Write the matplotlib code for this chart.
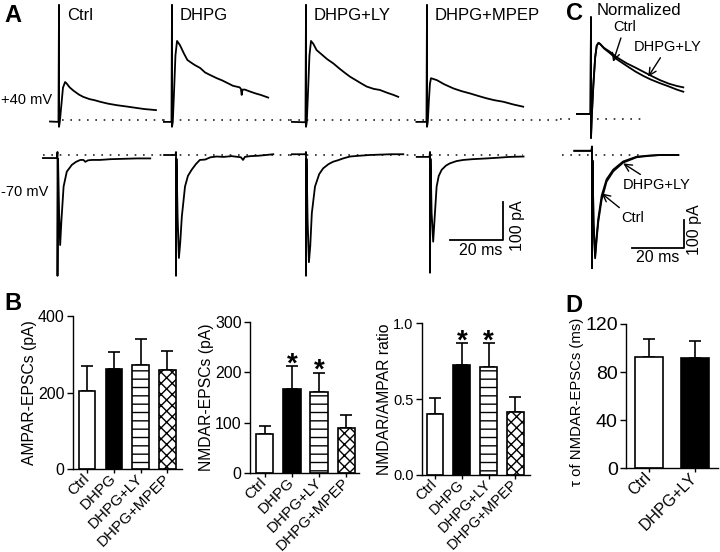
import matplotlib.pyplot as plt
import numpy as np

plt.rcParams['font.family'] = ['Liberation Sans', 'DejaVu Sans']
plt.rcParams['hatch.linewidth'] = 1.0

# ---------------- data ----------------
CONDS = ['Ctrl', 'DHPG', 'DHPG+LY', 'DHPG+MPEP']

# A, +40 mV traces (time in ms from stimulus, current in pA)
ctrl_p40_t = [-3.4, -0.2, 0, 0, 0.3, 0.9, 1.5, 2.3, 2.9, 4.0, 5.5, 7.5, 9.1, 11.5, 13.5, 15.5, 18.5, 21.8, 25, 28, 32, 36.6]
ctrl_p40_i = [-4, -5, 303, -18, -5, 40, 85, 100, 96, 86, 77, 67, 61, 55, 52, 48, 43, 39, 36, 33, 29, 26]
dhpg_p40_t = [-3.4, -0.2, 0, 0, 0.3, 0.8, 1.3, 1.9, 3.0, 4.5, 5.8, 6.8, 8.5, 10.6, 12.5, 14.5, 16.9, 19, 21, 23, 25.5, 26.0, 26.3, 26.6, 27.5, 29.4, 31.5, 33.5, 36.3]
dhpg_p40_i = [-5, -5, 303, -18, -5, 80, 170, 208, 197, 175, 158, 153, 145, 137, 125, 118, 110, 104, 97, 90, 86, 82, 66, 80, 80, 75, 70, 66, 59]
ly_p40_t = [-5.3, -0.2, 0, 0, 0.3, 0.8, 1.3, 1.9, 2.8, 4, 6, 8, 10.3, 12.5, 14.5, 16.6, 19, 20.9, 22.9, 25.5, 27.9, 30.5, 33, 34.8]
ly_p40_i = [-5, -6, 303, -18, -5, 80, 170, 208, 200, 184, 172, 160, 149, 136, 125, 114, 104, 96, 88, 82, 79, 72, 66, 61]
mpep_p40_t = [-4, -0.2, 0, 0, 0.3, 0.7, 1.1, 1.5, 3.7, 6.5, 10, 13, 16.2, 19.5, 22.5, 25.5, 28.8, 32.5, 36.3]
mpep_p40_i = [-5, -5, 303, -18, -5, 50, 95, 110, 105, 94, 83, 76, 70, 63, 57, 52, 48, 41, 35]

# A, -70 mV traces
ctrl_m70_t = [-5.5, -0.2, 0, 0, 0.2, 0.6, 1.0, 1.5, 2.3, 3.5, 5.4, 7, 8.6, 9.8, 10.5, 11.5, 13, 16, 20, 25, 30, 35]
ctrl_m70_i = [-8, -8, 8, -318, -10, -150, -237, -170, -83, -44, -26, -18, -13, -13, -18, -14, -13, -13, -11, -10, -9, -9]
dhpg_m70_t = [-4.2, -0.2, 0, 0, 0.2, 0.6, 1.1, 1.6, 2.2, 3.4, 4.5, 5.9, 7.5, 9, 11, 13, 15.3, 18, 21, 24.5, 25.3, 26, 28, 31, 34, 36.7]
dhpg_m70_i = [0, 0, 8, -318, -10, -160, -271, -230, -162, -83, -55, -39, -24, -13, -12, -6, -4, -5, -3, -6, -13, -5, -3, -2, 0, 2]
ly_m70_t = [-5.3, -0.2, 0, 0, 0.2, 0.6, 1.1, 1.6, 2.2, 3.4, 5, 6.5, 8.5, 10.3, 12, 14, 16.6, 20, 24, 28, 32, 36.7]
ly_m70_i = [2, 2, 8, -318, -10, -170, -282, -240, -153, -83, -50, -35, -24, -17.5, -14, -9, -4, -2, 0, 1, 2, 2]
mpep_m70_t = [-5, -0.2, 0, 0, 0.2, 0.6, 1.2, 1.8, 2.5, 3.3, 4.4, 6, 7.5, 10, 12.6, 16, 21.4, 26, 30, 35.3]
mpep_m70_i = [-5, -5, 8, -310, -10, -150, -228, -160, -83, -55, -39, -28, -22, -16, -13, -11, -9, -7, -5, -4]

# C, normalized traces
norm_up_t = [-5.4, -0.2, 0, 0, 0.3, 0.9, 1.6, 2.2, 2.9, 3.5, 5, 7.3, 10, 13.7, 17, 20.1, 23, 26.5, 30, 33, 35.5]
norm_up_ctrl = [18, 18, 364, -68, 10, 120, 220, 262, 272, 268, 252, 235, 213, 190, 170, 154, 141, 128, 116, 105, 97.5]
norm_up_ly = [18, 18, 364, -68, 10, 120, 220, 262, 272, 268, 254, 240, 220, 199, 184, 169, 155, 139, 126, 118, 113]
norm_dn_t = [-6.8, -0.2, 0, 0, 0.2, 0.6, 1.2, 1.8, 2.4, 3.7, 5.6, 8.2, 12, 17.2, 22, 26.2, 30, 33.2]
norm_dn_ctrl = [15, 15, 30, -404, -20, -250, -369, -300, -240, -160, -95, -58, -27, -8, -3, 0, 0, 0]
norm_dn_ly = [15, 15, 30, -404, -20, -240, -360, -290, -228, -146, -87, -52, -23, -6, -2, 0, 0, 0]

# B and D, bar summaries (mean, SEM)
ampar_mean = [205, 263, 272, 259]
ampar_sem = [65, 42, 67, 50]
nmdar_mean = [78, 166, 161, 89]
nmdar_sem = [16, 46, 38, 27]
ratio_mean = [0.40, 0.725, 0.71, 0.413]
ratio_sem = [0.11, 0.143, 0.158, 0.103]
sig = [False, True, True, False]
tau_conds = ['Ctrl', 'DHPG+LY']
tau_mean = [92.8, 91.5]
tau_sem = [14.5, 14.5]

# ---------------- layout helpers ----------------
W, H = 720, 552
fig = plt.figure(figsize=(W / 100, H / 100), dpi=100)


def px_axes(left, top, right, bottom):
    return fig.add_axes([left / W, 1 - bottom / H, (right - left) / W, (bottom - top) / H])


def fig_text(x, y, s, **kw):
    fig.text(x / W, 1 - y / H, s, **kw)


def trace_axes(left, right, top, bottom, stim_x, base_y, px_ms, px_pa):
    ax = px_axes(left, top, right, bottom)
    ax.set_xlim((left - stim_x) / px_ms, (right - stim_x) / px_ms)
    ax.set_ylim(-(bottom - base_y) / px_pa, (base_y - top) / px_pa)
    ax.axis('off')
    return ax


def dotted(ax, x0, x1):
    ax.plot([x0, x1], [0, 0], color='#222222', lw=1.2, linestyle=(0, (1, 4)))


LW = 1.3
# A: 2.65 px per ms, 0.38 px per pA
PX_MS, PX_PA = 2.65, 0.38
A_COLS = [(40, 163, 59, 57.5), (163, 290, 172, 176), (290, 414, 306, 306), (414, 560, 427, 430)]
top_traces = [(ctrl_p40_t, ctrl_p40_i), (dhpg_p40_t, dhpg_p40_i), (ly_p40_t, ly_p40_i), (mpep_p40_t, mpep_p40_i)]
bot_traces = [(ctrl_m70_t, ctrl_m70_i), (dhpg_m70_t, dhpg_m70_i), (ly_m70_t, ly_m70_i), (mpep_m70_t, mpep_m70_i)]

for k, ((left, right, s_top, s_bot), (tt, ti), (bt, bi)) in enumerate(zip(A_COLS, top_traces, bot_traces)):
    ax = trace_axes(left, right, 0, 140, s_top, 120, PX_MS, PX_PA)
    x0 = max(left, 62)
    dotted(ax, (x0 - s_top) / PX_MS, (right - s_top) / PX_MS)
    ax.plot(tt, ti, color='black', lw=LW)

    ax = trace_axes(left, right, 140, 285, s_bot, 155, PX_MS, PX_PA)
    x0 = max(left, 43)
    x1 = min(right, 523)
    dotted(ax, (x0 - s_bot) / PX_MS, (x1 - s_bot) / PX_MS)
    ax.plot(bt, bi, color='black', lw=LW)
    fig_text(s_top + 8, 20, CONDS[k], fontsize=12, va='baseline', ha='left')
    if k == 3:
        # scale bar 20 ms / 100 pA
        ax.plot([7.5, 27.5, 27.5], [-224, -224, -124], color='black', lw=LW, clip_on=False)
        ax.text(19, -232, '20 ms', fontsize=11.5, ha='center', va='top')
        ax.text(33, -185, '100 pA', fontsize=11.5, ha='center', va='center', rotation=90)

fig_text(1, 104, '+40 mV', fontsize=10.5, va='baseline')
fig_text(1, 196, '-70 mV', fontsize=10.5, va='baseline')
fig_text(4, 22, 'A', fontsize=17, fontweight='bold', va='baseline')

# C: normalized
CX_MS, CX_PA = 2.6, 0.28
ax = trace_axes(560, 710, 0, 140, 591, 119, CX_MS, CX_PA)
dotted(ax, (597 - 591) / CX_MS, (643 - 591) / CX_MS)
dotted(ax, (560 - 591) / CX_MS, (575 - 591) / CX_MS)
ax.plot(norm_up_t, norm_up_ctrl, color='black', lw=LW)
ax.plot(norm_up_t, norm_up_ly, color='black', lw=LW)
arrow = dict(arrowstyle='->,head_length=0.5,head_width=0.25', lw=1.0, color='black', shrinkA=1, shrinkB=0)
ax.annotate('Ctrl', xy=(8.5, 204), xytext=(12.9, 329), fontsize=10.5, ha='center', va='center', arrowprops=arrow)
ax.annotate('DHPG+LY', xy=(22, 151), xytext=(29.4, 258), fontsize=10.5, ha='center', va='center', arrowprops=arrow)

ax = trace_axes(560, 710, 140, 285, 592, 155, CX_MS, CX_PA)
dotted(ax, (562 - 592) / CX_MS, (640 - 592) / CX_MS)
ax.plot(norm_dn_t, norm_dn_ctrl, color='black', lw=LW)
ax.plot(norm_dn_t, norm_dn_ly, color='black', lw=LW)
ax.annotate('DHPG+LY', xy=(12, -30), xytext=(24.9, -107), fontsize=10.5, ha='center', va='center', arrowprops=arrow)
ax.annotate('Ctrl', xy=(3.7, -137), xytext=(15.6, -226), fontsize=10.5, ha='center', va='center', arrowprops=arrow)
ax.plot([15.4, 35.4, 35.4], [-332, -332, -232], color='black', lw=LW, clip_on=False)
ax.text(25.4, -340, '20 ms', fontsize=11.5, ha='center', va='top')
ax.text(39.5, -265, '100 pA', fontsize=11.5, ha='center', va='center', rotation=90)

fig_text(566, 20, 'C', fontsize=17, fontweight='bold', va='baseline')
fig_text(597, 15, 'Normalized', fontsize=12, va='baseline')

# ---------------- bar panels ----------------
STYLES = [('white', None), ('black', None), ('white', '--'), ('white', 'xxx')]


def bar_panel(box, c0, dx, width, labels, means, sems, ylim, yticks, yticklabels, ylabel,
              stars=None, tick_fs=11.5, xlab_fs=11, ylab_fs=11.3):
    left, top, right, bottom = box
    ax = px_axes(left, top, right, bottom)
    x = np.arange(len(means))
    for xi, m, (fc, hatch) in zip(x, means, STYLES):
        ax.bar(xi, m, width, color=fc, edgecolor='black', hatch=hatch, linewidth=1.2, zorder=2)
    ax.errorbar(x, means, yerr=[np.zeros(len(sems)), sems], fmt='none', ecolor='black',
                elinewidth=1.2, capsize=4, capthick=1.2, zorder=1)
    if stars is not None:
        for xi, m, s, st in zip(x, means, sems, stars):
            if st:
                ax.annotate('*', (xi, m + s), xytext=(0, -8), textcoords='offset points',
                            ha='center', va='bottom', fontsize=20, fontweight='bold')
    ax.set_xlim((left - c0) / dx, (right - c0) / dx)
    ax.set_ylim(*ylim)
    ax.set_yticks(yticks)
    ax.set_yticklabels(yticklabels)
    ax.set_xticks(x)
    ax.set_xticklabels(labels, rotation=45, ha='right', va='center', rotation_mode='anchor',
                       fontsize=xlab_fs)
    for sp in ['top', 'right']:
        ax.spines[sp].set_visible(False)
    for sp in ['left', 'bottom']:
        ax.spines[sp].set_linewidth(1.0)
    ax.tick_params(axis='y', direction='out', length=4, width=1.0, labelsize=tick_fs, pad=2)
    ax.tick_params(axis='x', direction='out', length=3, width=1.0, pad=2)
    ax.set_ylabel(ylabel, fontsize=ylab_fs, labelpad=1)
    return ax


bar_panel((73, 316, 182, 469.3), 87.2, 26.7, 0.62, CONDS, ampar_mean, ampar_sem,
          (0, 400), [0, 200, 400], ['0', '200', '400'], 'AMPAR-EPSCs (pA)')
bar_panel((250, 321.7, 359, 473.3), 264.5, 27.3, 0.64, CONDS, nmdar_mean, nmdar_sem,
          (0, 300), [0, 100, 200, 300], ['0', '100', '200', '300'], 'NMDAR-EPSCs (pA)', sig)
bar_panel((422, 323.3, 530, 475), 435, 26.8, 0.63, CONDS, ratio_mean, ratio_sem,
          (0, 1), [0, 0.5, 1.0], ['0.0', '0.5', '1.0'], 'NMDAR/AMPAR ratio', sig,
          tick_fs=10.5, xlab_fs=10.5)
ax_d = bar_panel((626, 324, 718, 468.3), 649, 46, 0.61, tau_conds, tau_mean, tau_sem,
                 (0, 120), [0, 40, 80, 120], ['0', '40', '80', '120'], '\u03c4 of NMDAR-EPSCs (ms)',
                 tick_fs=14, xlab_fs=11.5, ylab_fs=10.7)
ax_d.yaxis.label.set_y(0.46)

fig_text(4, 310, 'B', fontsize=17, fontweight='bold', va='baseline')
fig_text(565, 312, 'D', fontsize=17, fontweight='bold', va='baseline')

fig.savefig('out.png', dpi=100)
